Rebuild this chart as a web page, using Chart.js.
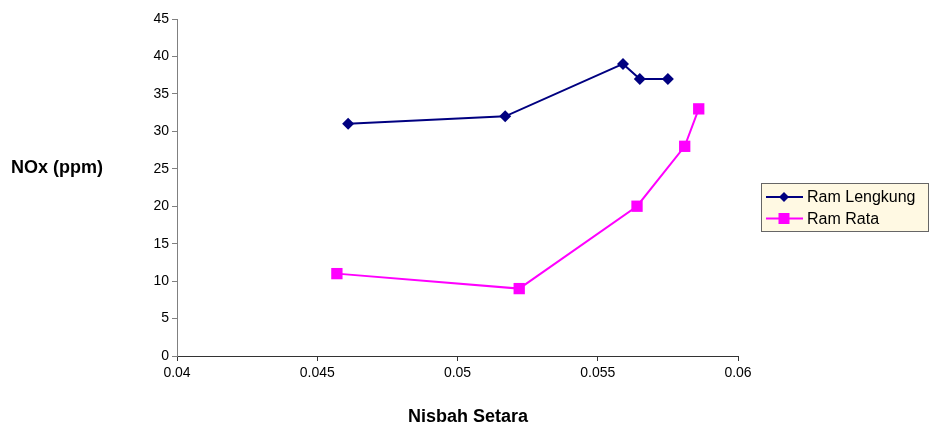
<!DOCTYPE html>
<html>
<head>
<meta charset="utf-8">
<script src="https://cdn.jsdelivr.net/npm/chart.js@4/dist/chart.umd.min.js"></script>
<style>
  html, body { margin: 0; padding: 0; background: #fff; }
  #wrap { width: 929px; height: 425px; position: relative; }
</style>
</head>
<body>
<div id="wrap"><canvas id="chart" width="929" height="425"></canvas></div>
<script>
// values
const seriesNames = ['Ram Lengkung', 'Ram Rata'];
const lengkungX = [0.0461, 0.0517, 0.0559, 0.0565, 0.0575];
const lengkungY = [31, 32, 39, 37, 37];
const rataX = [0.0457, 0.0522, 0.0564, 0.0581, 0.0586];
const rataY = [11, 9, 20, 28, 33];
const xTicks = [0.04, 0.045, 0.05, 0.055, 0.06];
const yTicks = [0, 5, 10, 15, 20, 25, 30, 35, 40, 45];

const font = 'Liberation Sans, Arial, sans-serif';

function toPoints(xs, ys) {
  return xs.map((x, i) => ({ x: x, y: ys[i] }));
}

//draws both axis titles and the boxed legend on the right
const extras = {
  id: 'extras',
  afterDraw(c) {
    const ctx = c.ctx;
    ctx.save();
    ctx.fillStyle = '#000';
    ctx.font = 'bold 18px ' + font;
    ctx.textBaseline = 'middle';
    ctx.textAlign = 'left';
    ctx.fillText('NOx (ppm)', 11, 168);
    ctx.textAlign = 'center';
    ctx.fillText('Nisbah Setara', 468, 417);

    // legend box
    const lx = 761, ly = 183, lw = 168, lh = 49;
    ctx.textAlign = 'left';
    ctx.fillStyle = '#FFF9E3';
    ctx.fillRect(lx, ly, lw, lh);
    ctx.strokeStyle = '#666';
    ctx.lineWidth = 1;
    ctx.strokeRect(lx + 0.5, ly + 0.5, lw - 1, lh - 1);
    c.data.datasets.forEach((ds, i) => {
      const y = ly + 14 + i * 21.5;
      const mx = lx + 23;
      ctx.strokeStyle = ds.borderColor;
      ctx.lineWidth = 2;
      ctx.beginPath();
      ctx.moveTo(lx + 5, y);
      ctx.lineTo(lx + 42, y);
      ctx.stroke();
      ctx.fillStyle = ds.pointBackgroundColor;
      if (ds.pointStyle === 'rectRot') {
        ctx.beginPath();
        ctx.moveTo(mx, y - 5);
        ctx.lineTo(mx + 5, y);
        ctx.lineTo(mx, y + 5);
        ctx.lineTo(mx - 5, y);
        ctx.closePath();
        ctx.fill();
      } else {
        ctx.fillRect(mx - 5.5, y - 5.5, 11, 11);
      }
      ctx.fillStyle = '#000';
      ctx.font = '16px ' + font;
      ctx.fillText(ds.label, lx + 46, y + 1);
    });
    ctx.restore();
  },
};

new Chart(document.getElementById('chart').getContext('2d'), {
  type: 'scatter',
  data: {
    datasets: [
      {
        label: seriesNames[0],
        data: toPoints(lengkungX, lengkungY),
        showLine: true,
        borderColor: '#000080',
        borderWidth: 2,
        pointStyle: 'rectRot',
        pointRadius: 6,
        pointBackgroundColor: '#000080',
        pointBorderColor: '#000080',
        pointBorderWidth: 0,
      },
      {
        label: seriesNames[1],
        data: toPoints(rataX, rataY),
        showLine: true,
        borderColor: '#FF00FF',
        borderWidth: 2,
        pointStyle: 'rect',
        pointRadius: 8,
        pointBackgroundColor: '#FF00FF',
        pointBorderColor: '#FF00FF',
        pointBorderWidth: 0,
      },
    ],
  },
  options: {
    responsive: false,
    animation: false,
    layout: { padding: { left: 0, right: 191, top: 19, bottom: 0 } },
    plugins: {
      legend: { display: false },
      tooltip: { enabled: false },
    },
    scales: {
      x: {
        type: 'linear',
        min: xTicks[0],
        max: xTicks[xTicks.length - 1],
        afterBuildTicks: (axis) => {
          axis.ticks = xTicks.map((v) => ({ value: v }));
        },
        afterFit: (axis) => {
          axis.height = 69;
        },
        ticks: {
          color: '#000',
          font: { family: font, size: 14 },
          padding: 4,
          maxRotation: 0,
          callback: (v) => String(Number(v.toFixed(3))),
        },
        grid: {
          drawOnChartArea: false,
          drawTicks: true,
          tickLength: 5,
          color: '#333',
        },
        border: { color: '#333', width: 1 },
      },
      y: {
        min: yTicks[0],
        max: yTicks[yTicks.length - 1],
        afterBuildTicks: (axis) => {
          axis.ticks = yTicks.map((v) => ({ value: v }));
        },
        afterFit: (axis) => {
          axis.width = 177;
        },
        ticks: {
          color: '#000',
          font: { family: font, size: 14 },
          padding: 3,
        },
        grid: {
          drawOnChartArea: false,
          drawTicks: true,
          tickLength: 5,
          color: '#808080',
        },
        border: { color: '#808080', width: 1 },
      },
    },
  },
  plugins: [extras],
});
</script>
</body>
</html>
